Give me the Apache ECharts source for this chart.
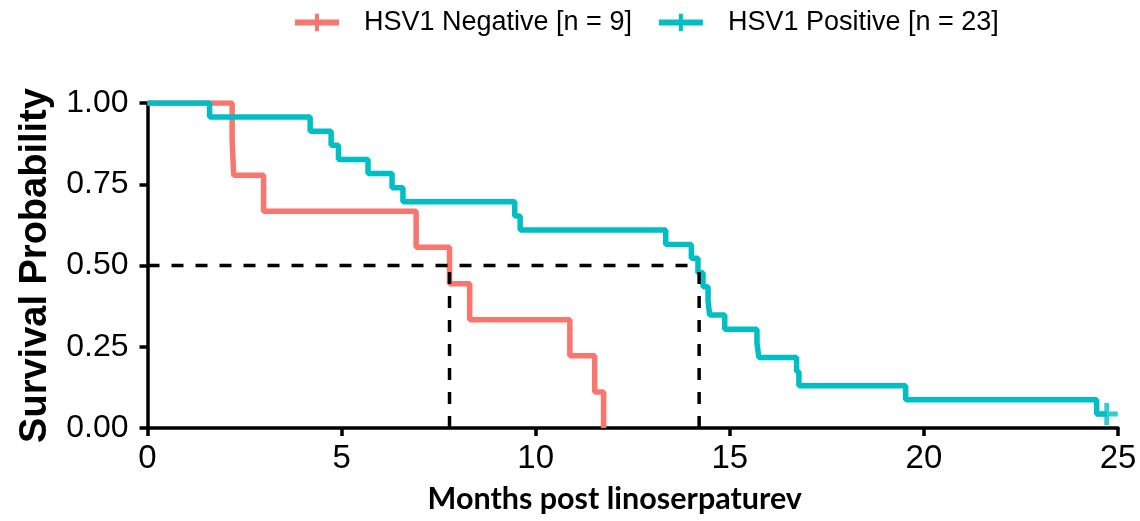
<!DOCTYPE html>
<html>
<head>
<meta charset="utf-8">
<script src="https://cdn.jsdelivr.net/npm/echarts@6/dist/echarts.min.js"></script>
<style>html,body{margin:0;padding:0;background:#fff;}#c{width:1140px;height:521px;}</style>
</head>
<body>
<div id="c"></div>
<script>
// ---- data ----
const seriesNames = ['HSV1 Negative [n = 9]', 'HSV1 Positive [n = 23]'];
const negTimes = [0, 2.18, 2.22, 2.99, 6.92, 7.78, 8.30, 10.88, 11.52, 11.75];
const negSurv  = [1, 0.889, 0.778, 0.667, 0.556, 0.444, 0.333, 0.222, 0.111, 0];
const posTimes = [0, 1.60, 4.19, 4.73, 4.92, 5.68, 6.30, 6.58, 9.46, 9.60, 13.35, 14.01, 14.18, 14.31, 14.44, 14.48, 14.87, 15.70, 15.75, 16.72, 16.78, 19.53, 24.45, 24.71];
const posSurv  = [1, 0.957, 0.913, 0.870, 0.826, 0.783, 0.739, 0.696, 0.652, 0.609, 0.565, 0.522, 0.478, 0.435, 0.391, 0.348, 0.304, 0.261, 0.217, 0.174, 0.130, 0.087, 0.043, 0.043];
const posCensorTimes = [24.71];
const posCensorSurv = [0.043];
const medianSurv = 0.5;
const medianTimes = [7.78, 14.21];
const xTicks = [0, 5, 10, 15, 20, 25];
const yTicks = [0, 0.25, 0.5, 0.75, 1];

const colors = ['#F8766D', '#00BFC4'];
const plusPath = 'path://M7,0 H11 V7 H18 V11 H11 V18 H7 V11 H0 V7 H7 Z';

const zip = (a, b) => a.map((v, i) => [v, b[i]]);
const dashStyle = { color: '#000', width: 3.5, type: [12, 12] };

const chart = echarts.init(document.getElementById('c'), null, { renderer: 'canvas' });
chart.setOption({
  animation: false,
  backgroundColor: '#fff',
  grid: { left: 147.5, right: 22, top: 103, bottom: 93, outerBoundsMode: 'none' },
  legend: {
    data: seriesNames,
    left: 287, top: 4,
    itemWidth: 44, itemHeight: 22, itemGap: 24,
    lineStyle: { width: 6 },
    textStyle: { fontFamily: 'Liberation Sans', fontSize: 27, color: '#000', padding: [0, 0, 0, 20] }
  },
  xAxis: {
    type: 'value', min: xTicks[0], max: xTicks[xTicks.length - 1], interval: 5,
    name: 'Months post linoserpaturev', nameLocation: 'middle', nameGap: 56,
    nameTextStyle: { fontFamily: 'Lato', fontWeight: 'bold', fontSize: 30.5, color: '#000', padding: [0, 36, 0, 0] },
    axisLine: { show: true, lineStyle: { color: '#000', width: 3.5 } },
    axisTick: { show: true, length: 8, lineStyle: { color: '#000', width: 3.5 } },
    axisLabel: { fontFamily: 'Liberation Sans', fontSize: 33, color: '#000', margin: 14 },
    splitLine: { show: false }
  },
  yAxis: {
    type: 'value', min: yTicks[0], max: yTicks[yTicks.length - 1], interval: 0.25,
    name: 'Survival Probability', nameLocation: 'middle', nameGap: 93,
    nameTextStyle: { fontFamily: 'Liberation Sans', fontWeight: 'bold', fontSize: 38, color: '#000' },
    axisLine: { show: true, lineStyle: { color: '#000', width: 3.5 } },
    axisTick: { show: true, length: 8, lineStyle: { color: '#000', width: 3.5 } },
    axisLabel: { fontFamily: 'Liberation Sans', fontSize: 32, color: '#000', margin: 19, formatter: v => v.toFixed(2) },
    splitLine: { show: false }
  },
  series: [
    {
      name: seriesNames[0], type: 'line', step: 'end', data: zip(negTimes, negSurv),
      symbol: plusPath, showSymbol: false, color: colors[0],
      lineStyle: { color: colors[0], width: 5.5 }, itemStyle: { color: colors[0] }, z: 2
    },
    {
      name: seriesNames[1], type: 'line', step: 'end', data: zip(posTimes, posSurv),
      symbol: plusPath, showSymbol: false, color: colors[1],
      lineStyle: { color: colors[1], width: 5.5 }, itemStyle: { color: colors[1] }, z: 2
    },
    {
      name: 'censor', type: 'scatter', data: zip(posCensorTimes, posCensorSurv),
      symbol: plusPath, symbolSize: 22, itemStyle: { color: colors[1] }, z: 3
    },
    {
      name: 'medianH', type: 'line', data: [[0, medianSurv], [medianTimes[1], medianSurv]],
      showSymbol: false, symbol: 'none', lineStyle: dashStyle, z: 4
    },
    {
      name: 'medianV1', type: 'line', data: [[medianTimes[0], 0], [medianTimes[0], medianSurv]],
      showSymbol: false, symbol: 'none', lineStyle: dashStyle, z: 4
    },
    {
      name: 'medianV2', type: 'line', data: [[medianTimes[1], 0], [medianTimes[1], medianSurv]],
      showSymbol: false, symbol: 'none', lineStyle: dashStyle, z: 4
    }
  ]
});
</script>
</body>
</html>
